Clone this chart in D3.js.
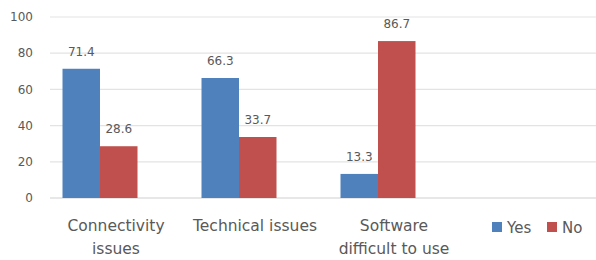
<!DOCTYPE html>
<html>
<head>
<meta charset="utf-8">
<script src="https://cdn.jsdelivr.net/npm/d3@7"></script>
<style>
  body { margin: 0; background: #fff; }
  svg { display: block; font-family: "DejaVu Sans", sans-serif; }
</style>
</head>
<body>
<svg width="596" height="260"></svg>
<script>
// data
const categories = [["Connectivity", "issues"], ["Technical issues"], ["Software", "difficult to use"]];
const series = ["Yes", "No"];
const yesValues = [71.4, 66.3, 13.3];
const noValues = [28.6, 33.7, 86.7];
const yTicks = [0, 20, 40, 60, 80, 100];
const colors = ["#4f81bd", "#c0504d"];

draw();

function draw() {
  const svg = d3.select("svg");
  const textColor = "#595959";

  const keys = categories.map((c) => c.join(" "));
  const x = d3.scaleBand().domain(keys).range([30.5, 447.5]).paddingInner(0).paddingOuter(0);
  const innerPad = 32; // space between groups
  const x1 = d3
    .scaleBand()
    .domain(series)
    .range([innerPad, x.bandwidth() - innerPad]);
  const y = d3.scaleLinear().domain([0, 100]).range([198, 17]);

  // grid lines
  svg
    .append("g")
    .selectAll("line")
    .data(yTicks)
    .enter()
    .append("line")
    .attr("x1", 50)
    .attr("x2", 596)
    .attr("y1", (d) => y(d))
    .attr("y2", (d) => y(d))
    .attr("stroke", (d) => (d === 0 ? "#cfcfcf" : "#e3e3e3"))
    .attr("stroke-width", 1.2);

  // y tick labels
  svg
    .append("g")
    .selectAll("text")
    .data(yTicks)
    .enter()
    .append("text")
    .attr("x", 33)
    .attr("y", (d) => y(d))
    .attr("dy", "0.35em")
    .attr("text-anchor", "end")
    .attr("font-size", "12px")
    .attr("fill", textColor)
    .text((d) => d);

  const rows = keys.map((k, i) => ({ key: k, vals: [yesValues[i], noValues[i]] }));

  const groups = svg
    .append("g")
    .selectAll("g")
    .data(rows)
    .enter()
    .append("g")
    .attr("transform", (d) => `translate(${x(d.key)},0)`);

  groups
    .selectAll("rect")
    .data((d) => d.vals.map((v, j) => ({ s: series[j], v, j })))
    .enter()
    .append("rect")
    .attr("x", (d) => x1(d.s))
    .attr("width", x1.bandwidth())
    .attr("y", (d) => y(d.v))
    .attr("height", (d) => y(0) - y(d.v))
    .attr("fill", (d) => colors[d.j]);

  // value labels
  groups
    .selectAll("text.val")
    .data((d) => d.vals.map((v, j) => ({ s: series[j], v, j })))
    .enter()
    .append("text")
    .attr("class", "val")
    .attr("x", (d) => x1(d.s) + x1.bandwidth() / 2)
    .attr("y", (d) => y(d.v) - 13)
    .attr("text-anchor", "middle")
    .attr("font-size", "12px")
    .attr("fill", textColor)
    .text((d) => d.v.toFixed(1));

  // category labels
  const catLabels = svg
    .append("g")
    .selectAll("text")
    .data(categories)
    .enter()
    .append("text")
    .attr("x", (d, i) => x(keys[i]) + x.bandwidth() / 2 + 16)
    .attr("y", 231)
    .attr("text-anchor", "middle")
    .attr("font-size", "15.5px")
    .attr("fill", textColor);

  catLabels
    .selectAll("tspan")
    .data((d) => d)
    .enter()
    .append("tspan")
    .attr("x", function () {
      return d3.select(this.parentNode).attr("x");
    })
    .attr("dy", (d, i) => (i === 0 ? 0 : 23))
    .text((d) => d);

  // legend
  const legX = [492, 547];
  const leg = svg
    .append("g")
    .selectAll("g")
    .data(series)
    .enter()
    .append("g")
    .attr("transform", (d, i) => `translate(${legX[i]},227)`);
  leg
    .append("rect")
    .attr("x", 0)
    .attr("y", -5)
    .attr("width", 10)
    .attr("height", 10)
    .attr("fill", (d, i) => colors[i]);
  leg
    .append("text")
    .attr("x", 15)
    .attr("y", 1)
    .attr("dy", "0.35em")
    .attr("font-size", "15px")
    .attr("fill", textColor)
    .text((d) => d);
}
</script>
</body>
</html>
